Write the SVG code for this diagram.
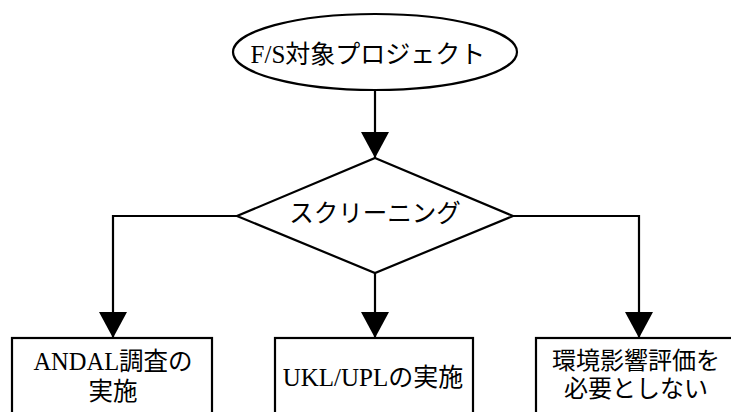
<svg xmlns="http://www.w3.org/2000/svg" width="731" height="412" viewBox="0 0 731 412">
  <style>
    .shape { fill: #ffffff; stroke: #000000; stroke-width: 2.2; }
    .conn { fill: none; stroke: #000000; stroke-width: 2.2; }
    .lbl { font-family: "Liberation Serif", "Noto Sans CJK JP", serif; fill: #000000; text-anchor: middle; }
  </style>
  <defs>
    <marker id="arrow" viewBox="0 0 26 28" refX="26" refY="14" markerWidth="26" markerHeight="28" markerUnits="userSpaceOnUse" orient="auto">
      <path d="M0,0 L26,14 L0,28 Z" fill="#000000"/>
    </marker>
  </defs>
  <rect x="0" y="0" width="731" height="412" fill="#ffffff"/>

  <g id="connectors">
    <path class="conn" d="M375,90 V158" marker-end="url(#arrow)"/>
    <path class="conn" d="M237,216 H113 V338" marker-end="url(#arrow)"/>
    <path class="conn" d="M375,273 V338" marker-end="url(#arrow)"/>
    <path class="conn" d="M513,216 H639 V338" marker-end="url(#arrow)"/>
  </g>

  <g id="node-start">
    <ellipse class="shape" cx="375" cy="52" rx="142" ry="38"/>
    <text class="lbl" x="368" y="63" font-size="25">F/S対象プロジェクト</text>
  </g>

  <g id="node-screening">
    <path class="shape" d="M375,158 L513,216 L375,273 L237,216 Z"/>
    <text class="lbl" x="375" y="222" font-size="24.5">スクリーニング</text>
  </g>

  <g id="node-andal">
    <rect class="shape" x="12" y="338" width="200" height="90"/>
    <text class="lbl" x="113" y="370" font-size="24.5">ANDAL調査の</text>
    <text class="lbl" x="113" y="400" font-size="24.5">実施</text>
  </g>

  <g id="node-ukl">
    <rect class="shape" x="275" y="338" width="198" height="90"/>
    <text class="lbl" x="373" y="386" font-size="25">UKL/UPLの実施</text>
  </g>

  <g id="node-none">
    <rect class="shape" x="536" y="338" width="206" height="90"/>
    <text class="lbl" x="636" y="369" font-size="24">環境影響評価を</text>
    <text class="lbl" x="636" y="397" font-size="24">必要としない</text>
  </g>
</svg>
